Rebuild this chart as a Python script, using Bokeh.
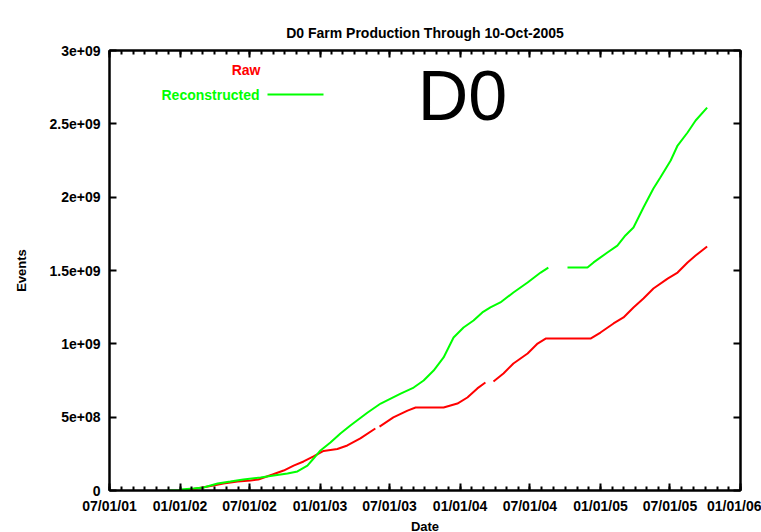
import numpy as np
import pandas as pd
from bokeh.plotting import figure
from bokeh.models import Range1d, FixedTicker, LinearAxis, Label, BoxAnnotation
from bokeh.embed import file_html
from bokeh.resources import INLINE

# ---------------- data (values in billions of events) ----------------
raw_dates = ["2001-12-28", "2002-01-28", "2002-02-28", "2002-03-29", "2002-04-24",
             "2002-05-31", "2002-07-04", "2002-07-24", "2002-08-30", "2002-09-28",
             "2002-10-24", "2002-11-19", "2002-12-15", "2003-01-10", "2003-02-15",
             "2003-03-13", "2003-04-16", "2003-05-25", "2003-05-30", "2003-06-05",
             "2003-07-11", "2003-08-17", "2003-09-07", "2003-11-19", "2003-12-25",
             "2004-01-20", "2004-02-15", "2004-03-07", "2004-03-17", "2004-03-28",
             "2004-04-23", "2004-05-19", "2004-06-25", "2004-07-21", "2004-08-11",
             "2004-12-06", "2005-01-01", "2005-02-04", "2005-03-02", "2005-03-28",
             "2005-04-23", "2005-05-19", "2005-06-25", "2005-07-21", "2005-08-16",
             "2005-09-06", "2005-10-06"]
raw_events = [0.0, 0.007, 0.020, 0.034, 0.048,
              0.061, 0.068, 0.075, 0.109, 0.136,
              0.170, 0.198, 0.232, 0.270, 0.283,
              0.307, 0.355, 0.423, None, 0.436,
              0.498, 0.545, 0.566, 0.566, 0.593,
              0.634, 0.696, 0.736, None, 0.743,
              0.798, 0.866, 0.934, 1.002, 1.036,
              1.036, 1.077, 1.139, 1.180, 1.248,
              1.309, 1.377, 1.445, 1.486, 1.555,
              1.602, 1.664]

reco_dates = ["2001-11-27", "2001-12-28", "2002-01-02", "2002-02-05", "2002-03-03",
              "2002-04-09", "2002-05-12", "2002-06-15", "2002-07-30", "2002-09-02",
              "2002-10-08", "2002-11-03", "2002-11-29", "2002-12-15", "2003-01-02",
              "2003-01-28", "2003-02-23", "2003-03-21", "2003-05-05", "2003-06-08",
              "2003-07-30", "2003-09-02", "2003-09-28", "2003-10-24", "2003-11-19",
              "2003-12-15", "2004-01-10", "2004-02-05", "2004-02-28", "2004-03-20",
              "2004-04-15", "2004-05-19", "2004-06-25", "2004-07-29", "2004-08-18",
              "2004-09-10", "2004-10-07", "2004-11-28", "2004-12-14", "2005-01-19",
              "2005-02-14", "2005-03-07", "2005-03-28", "2005-04-23", "2005-05-19",
              "2005-06-06", "2005-07-03", "2005-07-21", "2005-08-16", "2005-09-06",
              "2005-10-06"]
reco_events = [0.0, 0.0, 0.007, 0.014, 0.020,
               0.048, 0.061, 0.075, 0.089, 0.102,
               0.116, 0.130, 0.170, 0.218, 0.273,
               0.327, 0.389, 0.443, 0.532, 0.593,
               0.661, 0.702, 0.750, 0.818, 0.907,
               1.043, 1.111, 1.159, 1.214, 1.248,
               1.282, 1.350, 1.418, 1.486, 1.520,
               None, 1.520, 1.520, 1.555, 1.623,
               1.670, 1.739, 1.793, 1.930, 2.059,
               2.134, 2.250, 2.352, 2.441, 2.523,
               2.611]

x_tick_dates = ["2001-07-01", "2002-01-01", "2002-07-01", "2003-01-01", "2003-07-01",
                "2004-01-01", "2004-07-01", "2005-01-01", "2005-07-01", "2006-01-01"]
x_tick_labels = ["07/01/01", "01/01/02", "07/01/02", "01/01/03", "07/01/03",
                 "01/01/04", "07/01/04", "01/01/05", "07/01/05", "01/01/06"]
y_tick_values = [0, 5e8, 1e9, 1.5e9, 2e9, 2.5e9, 3e9]
y_tick_labels = ["0", "5e+08", "1e+09", "1.5e+09", "2e+09", "2.5e+09", "3e+09"]

title_text = "D0 Farm Production Through 10-Oct-2005"
series_names = ["Raw", "Reconstructed"]
RED = "#ff0000"
GREEN = "#00ff00"
FONT = "Liberation Sans"


def to_ms(d):
    return pd.Timestamp(d).timestamp() * 1000.0


raw_x = [to_ms(d) for d in raw_dates]
raw_y = [np.nan if v is None else v * 1e9 for v in raw_events]
reco_x = [to_ms(d) for d in reco_dates]
reco_y = [np.nan if v is None else v * 1e9 for v in reco_events]

major_ms = [to_ms(d) for d in x_tick_dates]
minor_ms = [t.timestamp() * 1000.0 for t in pd.date_range(x_tick_dates[0], x_tick_dates[-1], freq="MS")]

p = figure(x_axis_type="datetime",
           x_range=Range1d(major_ms[0], major_ms[-1]),
           y_range=Range1d(0, 3e9),
           frame_width=631, frame_height=440,
           min_border_left=109, min_border_right=21,
           min_border_top=50, min_border_bottom=42,
           output_backend="svg", toolbar_location=None,
           title=title_text)
p.background_fill_color = "white"
p.border_fill_color = "white"
p.outline_line_color = "black"
p.outline_line_width = 2
p.xgrid.visible = False
p.ygrid.visible = False

p.title.text_font = FONT
p.title.text_font_size = "14px"
p.title.text_font_style = "bold"
p.title.align = "center"
p.title.text_color = "black"
p.title.standoff = 19


def style_axis(ax, minor=True):
    ax.axis_line_width = 2
    ax.axis_line_color = "black"
    ax.major_tick_line_width = 2
    ax.major_tick_line_color = "black"
    ax.major_tick_in = 7
    ax.major_tick_out = 0
    ax.minor_tick_line_width = 2
    ax.minor_tick_line_color = "black" if minor else None
    ax.minor_tick_in = 4
    ax.minor_tick_out = 0
    ax.major_label_text_font = FONT
    ax.major_label_text_font_size = "14px"
    ax.major_label_text_font_style = "bold"
    ax.major_label_text_color = "black"
    ax.axis_label_text_font = FONT
    ax.axis_label_text_font_size = "13px"
    ax.axis_label_text_font_style = "bold"
    ax.axis_label_text_color = "black"


xax = p.xaxis[0]
xax.ticker = FixedTicker(ticks=major_ms, minor_ticks=minor_ms)
xax.major_label_overrides = {t: lab for t, lab in zip(major_ms, x_tick_labels)}
style_axis(xax)
xax.major_label_standoff = 7
xax.axis_label = "Date"
xax.axis_label_standoff = 2

yax = p.yaxis[0]
yax.ticker = FixedTicker(ticks=y_tick_values, minor_ticks=[])
yax.major_label_overrides = {v: lab for v, lab in zip(y_tick_values, y_tick_labels)}
style_axis(yax, minor=False)
yax.major_label_standoff = 9
yax.axis_label = "Events"
yax.axis_label_standoff = 18

top = LinearAxis(ticker=FixedTicker(ticks=major_ms, minor_ticks=minor_ms))
style_axis(top)
top.major_label_text_font_size = "0px"
top.major_label_text_color = None
top.major_label_standoff = 0
p.add_layout(top, "above")

right = LinearAxis(ticker=FixedTicker(ticks=y_tick_values, minor_ticks=[]))
style_axis(right, minor=False)
right.major_label_text_font_size = "0px"
right.major_label_text_color = None
right.major_label_standoff = 0
p.add_layout(right, "right")

p.line(raw_x, raw_y, line_color=RED, line_width=2)
p.line(reco_x, reco_y, line_color=GREEN, line_width=2)

# key (gnuplot style: text then sample line)
p.add_layout(Label(x=151, y=421, x_units="screen", y_units="screen", text=series_names[0],
                   text_align="right", text_baseline="middle", text_color=RED,
                   text_font=FONT, text_font_size="14px", text_font_style="bold"))
p.add_layout(Label(x=150, y=396, x_units="screen", y_units="screen", text=series_names[1],
                   text_align="right", text_baseline="middle", text_color=GREEN,
                   text_font=FONT, text_font_size="14px", text_font_style="bold"))
p.add_layout(BoxAnnotation(left=158, right=214, bottom=395, top=397,
                           left_units="screen", right_units="screen",
                           bottom_units="screen", top_units="screen",
                           fill_color=GREEN, fill_alpha=1.0, line_color=None))
p.add_layout(Label(x=353, y=395, x_units="screen", y_units="screen", text="D0",
                   text_align="center", text_baseline="middle", text_color="black",
                   text_font=FONT, text_font_size="70px", text_font_style="normal"))

open("out.html", "w").write(file_html(p, INLINE))
